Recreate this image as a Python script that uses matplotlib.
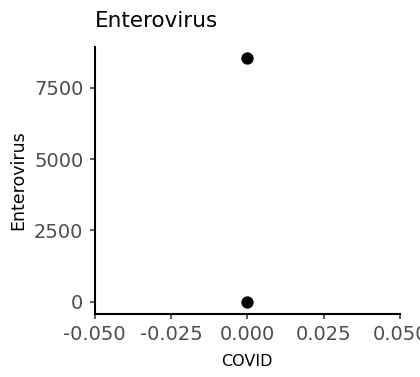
import matplotlib
matplotlib.use("Agg")
import matplotlib.pyplot as plt

plt.rcParams["axes.unicode_minus"] = False

# Enterovirus counts against COVID
covid = [0.0, 0.0]
enterovirus = [8530, 0]
x_ticks = [-0.050, -0.025, 0.000, 0.025, 0.050]
y_ticks = [0, 2500, 5000, 7500]

fig = plt.figure(figsize=(4.2, 3.77), dpi=100)
ax = fig.add_axes([0.225, 0.1684, 0.7274, 0.7082])

ax.scatter(covid, enterovirus, s=62, color="black", zorder=3, clip_on=False)

ax.set_xlim(-0.05, 0.05)
ax.set_ylim(-420, 8950)
ax.set_xticks(x_ticks)
ax.set_xticklabels([f"{v:.3f}" for v in x_ticks])
ax.set_yticks(y_ticks)

for side in ("top", "right"):
    ax.spines[side].set_visible(False)
for side in ("left", "bottom"):
    ax.spines[side].set_linewidth(1.5)
    ax.spines[side].set_color("black")

ax.tick_params(axis="both", length=3.6, width=1.1, color="#333333",
               labelsize=14, labelcolor="#4D4D4D")
ax.tick_params(axis="x", pad=5)
ax.tick_params(axis="y", pad=4.5)

ax.set_xlabel("COVID", fontsize=11.5, color="black", labelpad=7)
ax.set_ylabel("Enterovirus", fontsize=12.5, color="black", labelpad=5)
ax.set_title("Enterovirus", fontsize=15.5, loc="left", pad=14)

fig.savefig("out.png", dpi=100)
